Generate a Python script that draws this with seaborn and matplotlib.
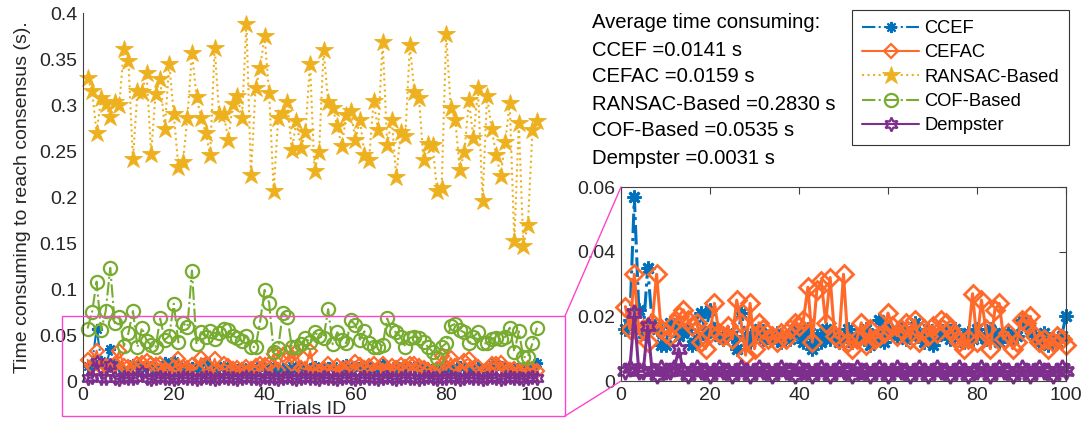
import numpy as np
import pandas as pd
import matplotlib
matplotlib.use("Agg")
import matplotlib.pyplot as plt
import seaborn as sns
from matplotlib.patches import Rectangle
from matplotlib.lines import Line2D

# ---------------- data ----------------
trials = list(range(1, 101))

ccef = [0.016, 0.019, 0.057, 0.022, 0.015, 0.035, 0.018, 0.016, 0.011, 0.011,
        0.018, 0.017, 0.014, 0.015, 0.016, 0.011, 0.013, 0.021, 0.015, 0.022,
        0.016, 0.014, 0.013, 0.015, 0.014, 0.010, 0.021, 0.014, 0.012, 0.015,
        0.016, 0.013, 0.014, 0.013, 0.015, 0.012, 0.014, 0.013, 0.016, 0.015,
        0.012, 0.016, 0.010, 0.014, 0.012, 0.016, 0.013, 0.015, 0.012, 0.014,
        0.016, 0.012, 0.013, 0.015, 0.016, 0.011, 0.014, 0.019, 0.012, 0.016,
        0.015, 0.014, 0.016, 0.013, 0.015, 0.018, 0.014, 0.012, 0.016, 0.011,
        0.014, 0.015, 0.016, 0.013, 0.016, 0.014, 0.012, 0.015, 0.013, 0.016,
        0.014, 0.013, 0.016, 0.015, 0.012, 0.014, 0.015, 0.013, 0.014, 0.019,
        0.018, 0.016, 0.014, 0.012, 0.015, 0.011, 0.013, 0.012, 0.014, 0.020]

cefac = [0.023, 0.016, 0.033, 0.015, 0.016, 0.012, 0.018, 0.033, 0.016, 0.015,
         0.014, 0.018, 0.020, 0.022, 0.019, 0.017, 0.018, 0.012, 0.010, 0.015,
         0.024, 0.015, 0.014, 0.017, 0.013, 0.025, 0.018, 0.008, 0.024, 0.010,
         0.018, 0.016, 0.013, 0.014, 0.012, 0.015, 0.013, 0.016, 0.018, 0.017,
         0.019, 0.029, 0.012, 0.028, 0.031, 0.018, 0.032, 0.014, 0.013, 0.033,
         0.012, 0.010, 0.013, 0.018, 0.011, 0.016, 0.013, 0.014, 0.015, 0.021,
         0.017, 0.014, 0.016, 0.018, 0.013, 0.019, 0.012, 0.016, 0.014, 0.017,
         0.015, 0.019, 0.018, 0.016, 0.014, 0.012, 0.010, 0.013, 0.027, 0.012,
         0.025, 0.016, 0.010, 0.022, 0.024, 0.013, 0.015, 0.010, 0.012, 0.019,
         0.018, 0.020, 0.014, 0.012, 0.013, 0.010, 0.012, 0.014, 0.013, 0.011]

ransac = [0.329, 0.315, 0.270, 0.308, 0.301, 0.287, 0.303, 0.300, 0.361, 0.348,
          0.241, 0.315, 0.314, 0.335, 0.247, 0.312, 0.328, 0.274, 0.345, 0.290,
          0.233, 0.238, 0.286, 0.357, 0.309, 0.286, 0.270, 0.246, 0.362, 0.290,
          0.290, 0.262, 0.301, 0.310, 0.286, 0.388, 0.224, 0.318, 0.340, 0.375,
          0.313, 0.207, 0.286, 0.291, 0.303, 0.251, 0.283, 0.253, 0.271, 0.345,
          0.228, 0.249, 0.360, 0.303, 0.297, 0.277, 0.255, 0.289, 0.293, 0.262,
          0.284, 0.246, 0.240, 0.304, 0.273, 0.369, 0.257, 0.284, 0.222, 0.271,
          0.266, 0.365, 0.314, 0.308, 0.240, 0.258, 0.257, 0.206, 0.210, 0.377,
          0.297, 0.284, 0.229, 0.249, 0.305, 0.264, 0.318, 0.196, 0.310, 0.274,
          0.246, 0.223, 0.260, 0.302, 0.152, 0.280, 0.147, 0.170, 0.273, 0.283]

cof = [0.057, 0.075, 0.108, 0.055, 0.076, 0.123, 0.063, 0.070, 0.038, 0.052,
       0.076, 0.037, 0.058, 0.044, 0.039, 0.037, 0.068, 0.045, 0.049, 0.084,
       0.042, 0.063, 0.059, 0.120, 0.040, 0.053, 0.048, 0.054, 0.046, 0.052,
       0.056, 0.055, 0.049, 0.047, 0.043, 0.049, 0.037, 0.037, 0.064, 0.099,
       0.085, 0.032, 0.036, 0.074, 0.070, 0.037, 0.037, 0.040, 0.047, 0.042,
       0.053, 0.049, 0.047, 0.078, 0.040, 0.053, 0.045, 0.041, 0.066, 0.061,
       0.045, 0.054, 0.041, 0.037, 0.037, 0.039, 0.068, 0.055, 0.053, 0.048,
       0.037, 0.047, 0.048, 0.047, 0.042, 0.037, 0.032, 0.025, 0.037, 0.041,
       0.060, 0.062, 0.055, 0.053, 0.041, 0.048, 0.053, 0.041, 0.041, 0.046,
       0.047, 0.046, 0.048, 0.058, 0.032, 0.054, 0.026, 0.026, 0.041, 0.058]

dempster = [0.003, 0.004, 0.021, 0.003, 0.003, 0.017, 0.003, 0.002, 0.004, 0.003,
            0.003, 0.004, 0.010, 0.003, 0.002, 0.003, 0.004, 0.003, 0.003, 0.002,
            0.003, 0.004, 0.003, 0.003, 0.002, 0.003, 0.004, 0.003, 0.002, 0.003,
            0.004, 0.003, 0.003, 0.002, 0.003, 0.004, 0.003, 0.003, 0.002, 0.004,
            0.003, 0.003, 0.002, 0.003, 0.004, 0.003, 0.002, 0.003, 0.004, 0.003,
            0.003, 0.002, 0.004, 0.003, 0.003, 0.002, 0.003, 0.004, 0.003, 0.002,
            0.003, 0.004, 0.003, 0.003, 0.002, 0.003, 0.004, 0.003, 0.002, 0.003,
            0.004, 0.003, 0.003, 0.002, 0.003, 0.004, 0.003, 0.002, 0.003, 0.003,
            0.004, 0.003, 0.002, 0.003, 0.004, 0.003, 0.003, 0.002, 0.003, 0.004,
            0.003, 0.002, 0.003, 0.004, 0.003, 0.003, 0.002, 0.003, 0.004, 0.003]

series_names = ["CCEF", "CEFAC", "RANSAC-Based", "COF-Based", "Dempster"]
averages = ["0.0141", "0.0159", "0.2830", "0.0535", "0.0031"]

main_yticks = [0, 0.05, 0.1, 0.15, 0.2, 0.25, 0.3, 0.35, 0.4]
main_ylabels = ["0", "0.05", "0.1", "0.15", "0.2", "0.25", "0.3", "0.35", "0.4"]
inset_yticks = [0, 0.02, 0.04, 0.06]
inset_ylabels = ["0", "0.02", "0.04", "0.06"]
xticks = [0, 20, 40, 60, 80, 100]

# ---------------- style ----------------
sns.set_theme(style="white")
plt.rcParams["font.family"] = ["Liberation Sans", "DejaVu Sans"]
plt.rcParams["axes.unicode_minus"] = False

C_CCEF = "#0072BD"
C_CEFAC = "#FF6A2A"
C_RANSAC = "#EDB120"
C_COF = "#77AC30"
C_DEMP = "#7E2F8E"
HEX = (6, 1, 0)

FS = 14
FS_TEXT = 14.6
FS_LEG = 13.2
fig = plt.figure(figsize=(10.89, 4.45), dpi=100)
W, H = 1089.0, 445.0

def fx(px):
    return px / W

def fy(py):
    return 1 - py / H

ax = fig.add_axes([fx(83), fy(381), (537 - 83) / W, (381 - 13) / H])
axi = fig.add_axes([fx(621), fy(381), (1066 - 621) / W, (381 - 187) / H])

df = pd.DataFrame({"trial": trials, "CCEF": ccef, "CEFAC": cefac,
                   "RANSAC-Based": ransac, "COF-Based": cof, "Dempster": dempster})

styles = {
    "CCEF": dict(color=C_CCEF, linestyle="-.", marker=(8, 2, 0), markersize=8,
                 markeredgewidth=1.5, markeredgecolor=C_CCEF),
    "CEFAC": dict(color=C_CEFAC, linestyle="-", marker="D", markersize=7,
                  markerfacecolor="none", markeredgewidth=1.6, markeredgecolor=C_CEFAC),
    "RANSAC-Based": dict(color=C_RANSAC, linestyle=":", marker="*", markersize=13.5,
                         markerfacecolor=C_RANSAC, markeredgecolor=C_RANSAC,
                         markeredgewidth=0.6),
    "COF-Based": dict(color=C_COF, linestyle="-.", marker="o", markersize=9.5,
                      markerfacecolor="none", markeredgewidth=1.6, markeredgecolor=C_COF),
    "Dempster": dict(color=C_DEMP, linestyle="-", marker=HEX, markersize=10,
                     markerfacecolor="none", markeredgewidth=1.6, markeredgecolor=C_DEMP),
}

for name in series_names:
    sns.lineplot(data=df, x="trial", y=name, ax=ax, label=name, linewidth=1.5,
                 clip_on=False, **styles[name])

inset_styles = {
    "CCEF": dict(styles["CCEF"], markersize=10, markeredgewidth=2),
    "CEFAC": dict(styles["CEFAC"], markersize=9, markeredgewidth=2),
    "Dempster": dict(styles["Dempster"], markersize=12, markeredgewidth=2),
}
for name in ["CCEF", "CEFAC", "Dempster"]:
    sns.lineplot(data=df, x="trial", y=name, ax=axi, linewidth=2.2,
                 legend=False, clip_on=False, **inset_styles[name])

handles, labels = ax.get_legend_handles_labels()
if ax.get_legend() is not None:
    ax.get_legend().remove()

spine_c = "#404040"
text_c = "#262626"

# main axes
ax.set_xlim(0, 100)
ax.set_ylim(0, 0.4)
ax.set_xticks(xticks)
ax.set_xticklabels([str(t) for t in xticks])
ax.set_yticks(main_yticks)
ax.set_yticklabels(main_ylabels)
for s in ["top", "right"]:
    ax.spines[s].set_visible(False)
for s in ["left", "bottom"]:
    ax.spines[s].set_color(spine_c)
    ax.spines[s].set_linewidth(0.8)
ax.spines["bottom"].set_zorder(0)
ax.tick_params(direction="in", length=5, width=0.8, color=spine_c,
               labelsize=FS, labelcolor=text_c, pad=4)
ax.set_xlabel("Trials ID", fontsize=FS, color=text_c, labelpad=-2)
ax.set_ylabel("Time consuming to reach consensus (s).", fontsize=FS, color=text_c,
              labelpad=6)
ax.patch.set_alpha(0)

# inset axes
axi.set_xlim(0, 100)
axi.set_ylim(0, 0.06)
axi.set_xticks(xticks)
axi.set_xticklabels([str(t) for t in xticks])
axi.set_yticks(inset_yticks)
axi.set_yticklabels(inset_ylabels)
for s in axi.spines.values():
    s.set_visible(True)
    s.set_color(spine_c)
    s.set_linewidth(0.8)
axi.tick_params(direction="in", length=5, width=0.8, color=spine_c,
                labelsize=FS, labelcolor=text_c, top=True, right=True, pad=4)
axi.set_xlabel("")
axi.set_ylabel("")

# zoom rectangle and connectors
pink = "#FF44CC"
fig.add_artist(Rectangle((fx(62), fy(416)), (565 - 62) / W, (416 - 316) / H,
                         transform=fig.transFigure, fill=False, edgecolor=pink,
                         linewidth=1.0))
fig.add_artist(Line2D([fx(565), fx(621)], [fy(316), fy(187)],
                      transform=fig.transFigure, color=pink, linewidth=1.0))
fig.add_artist(Line2D([fx(565), fx(621)], [fy(416), fy(381)],
                      transform=fig.transFigure, color=pink, linewidth=1.0))

# average text
lines = ["Average time consuming:"] + [f"{n} ={a} s" for n, a in zip(series_names, averages)]
ys = [22, 50, 77, 104, 131, 159]
for t, yy in zip(lines, ys):
    fig.text(fx(592), fy(yy), t, fontsize=FS_TEXT, color="black", va="center", ha="left")

# legend
leg = fig.legend(handles, labels, loc="upper left",
                 bbox_to_anchor=(fx(852), fy(10)), bbox_transform=fig.transFigure,
                 fontsize=FS_LEG, frameon=True, fancybox=False, framealpha=1,
                 edgecolor="#333333", handlelength=3.1, handletextpad=0.3,
                 labelspacing=0.4, borderpad=0.55, borderaxespad=0)
leg.get_frame().set_linewidth(0.8)
for t in leg.get_texts():
    t.set_color("black")

fig.savefig("out.png", dpi=100)
